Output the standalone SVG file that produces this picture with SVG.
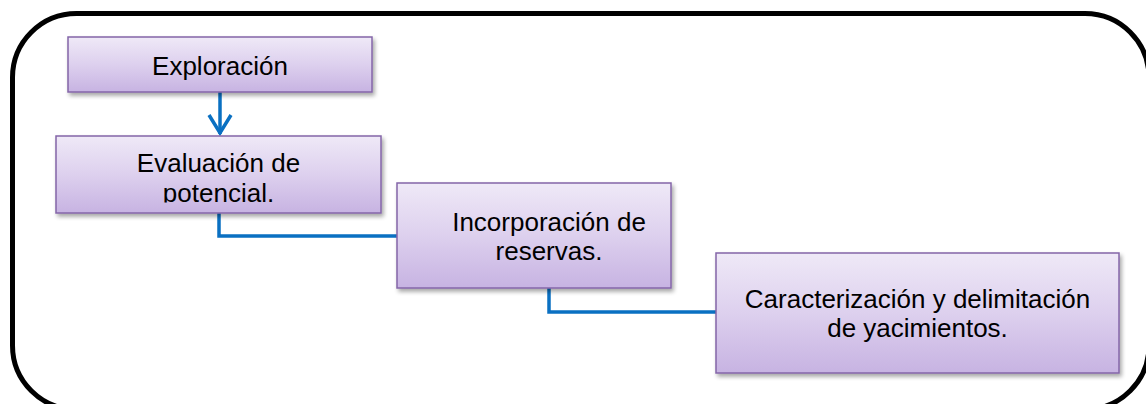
<svg xmlns="http://www.w3.org/2000/svg" width="1146" height="404" viewBox="0 0 1146 404">
  <defs>
    <linearGradient id="boxFill" x1="0" y1="0" x2="0" y2="1">
      <stop offset="0" stop-color="#efe9f7"/>
      <stop offset="0.5" stop-color="#ddd0ee"/>
      <stop offset="1" stop-color="#c7b3e2"/>
    </linearGradient>
    <filter id="shadow" x="-10%" y="-10%" width="125%" height="135%">
      <feGaussianBlur in="SourceAlpha" stdDeviation="2"/>
      <feOffset dx="2" dy="3" result="b"/>
      <feComponentTransfer><feFuncA type="linear" slope="0.35"/></feComponentTransfer>
      <feMerge><feMergeNode/><feMergeNode in="SourceGraphic"/></feMerge>
    </filter>
    <clipPath id="clipEval"><rect x="56" y="136" width="325" height="66.5"/></clipPath>
  </defs>
  <style>
    .frame { fill: none; stroke: #000; stroke-width: 5; }
    .box { fill: url(#boxFill); stroke: #8466a8; stroke-width: 1.5; filter: url(#shadow); }
    .lbl { font-family: "Liberation Sans", Arial, sans-serif; font-size: 26px; fill: #000; text-anchor: middle; }
    .conn { fill: none; stroke: #0a70c2; stroke-width: 3.5; }
  </style>

  <rect class="frame" x="12.5" y="13.5" width="1136.5" height="396" rx="64" ry="64"/>

  <g id="connectors">
    <line class="conn" x1="220" y1="92" x2="220" y2="134"/>
    <polyline class="conn" points="209,115 220,133 231,115"/>
    <polyline class="conn" points="219,213 219,236 398,236"/>
    <polyline class="conn" points="549,288 549,312 716,312"/>
  </g>

  <g id="node-exploracion">
    <rect class="box" x="68" y="37" width="304" height="55"/>
    <text class="lbl" x="220" y="75">Exploración</text>
  </g>

  <g id="node-evaluacion">
    <rect class="box" x="56" y="136" width="325" height="77"/>
    <g clip-path="url(#clipEval)">
      <text class="lbl" x="218.5" y="172">Evaluación de</text>
      <text class="lbl" x="218.5" y="202">potencial.</text>
    </g>
  </g>

  <g id="node-incorporacion">
    <rect class="box" x="397" y="183" width="274" height="105"/>
    <text class="lbl" x="549" y="231">Incorporación de</text>
    <text class="lbl" x="549" y="260">reservas.</text>
  </g>

  <g id="node-caracterizacion">
    <rect class="box" x="716" y="253" width="403" height="120"/>
    <text class="lbl" x="917.5" y="308">Caracterización y delimitación</text>
    <text class="lbl" x="917.5" y="337">de yacimientos.</text>
  </g>
</svg>
